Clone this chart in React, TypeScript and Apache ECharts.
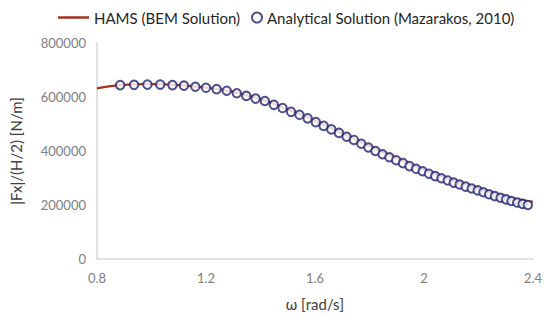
import React, { useEffect, useRef } from "react";
import * as echarts from "echarts";

// HAMS (BEM) curve: omega [rad/s] and |Fx|/(H/2) [N/m]
const hamsOmega = [0.8, 0.85, 0.9, 0.95, 1.0, 1.05, 1.1, 1.15, 1.2, 1.25, 1.3, 1.35, 1.4, 1.45, 1.5, 1.55, 1.6, 1.65, 1.7, 1.75, 1.8, 1.85, 1.9, 1.95, 2.0, 2.05, 2.1, 2.15, 2.2, 2.25, 2.3, 2.35, 2.4];
const hamsForce = [632000, 640000, 645000, 647000, 648000, 647000, 644000, 640000, 635000, 628000, 619000, 606000, 592000, 574000, 554000, 534000, 512000, 489000, 465000, 442000, 418000, 395000, 373000, 351000, 331000, 312000, 294000, 277000, 261000, 246000, 232000, 220000, 212000];

// Analytical solution (Mazarakos, 2010)
const anaOmega = [0.885, 0.936, 0.985, 1.032, 1.077, 1.119, 1.161, 1.2, 1.239, 1.276, 1.313, 1.348, 1.382, 1.416, 1.449, 1.481, 1.512, 1.543, 1.573, 1.603, 1.632, 1.66, 1.688, 1.716, 1.743, 1.77, 1.796, 1.822, 1.848, 1.873, 1.898, 1.923, 1.947, 1.971, 1.995, 2.018, 2.041, 2.064, 2.087, 2.109, 2.131, 2.153, 2.175, 2.197, 2.218, 2.239, 2.26, 2.281, 2.301, 2.321, 2.342, 2.362, 2.381];
const anaForce = [644000, 645000, 646000, 646000, 644000, 642000, 638000, 634000, 629000, 623000, 614000, 604000, 594000, 585000, 571000, 559000, 545000, 534000, 521000, 507000, 493000, 480000, 467000, 453000, 441000, 427000, 413000, 400000, 388000, 377000, 366000, 355000, 344000, 334000, 325000, 316000, 307000, 299000, 291000, 283000, 276000, 268000, 261000, 254000, 247000, 240000, 233000, 227000, 221000, 215000, 209000, 204000, 200000];

const seriesNames = ["HAMS (BEM Solution)", "Analytical Solution (Mazarakos, 2010)"];
const xTitle = "ω [rad/s]";
const yTitle = "|Fx|/(H/2) [N/m]";

const FONT = "Lato, 'Open Sans', sans-serif";
const LINE_COLOR = "#A3321F";
const CIRCLE_COLOR = "#232670";

export default function App() {
  const ref = useRef<HTMLDivElement>(null);
  useEffect(() => {
    if (!ref.current) return;
    const chart = echarts.init(ref.current, undefined, { renderer: "svg" });
    const legendText = { fontFamily: FONT, fontSize: 15, color: "#262626" };
    chart.setOption({
      animation: false,
      backgroundColor: "#ffffff",
      textStyle: { fontFamily: FONT },
      legend: [
        {
          top: 5,
          left: 53,
          itemWidth: 31,
          itemHeight: 2.5,
          itemGap: 4,
          textStyle: legendText,
          data: [{ name: seriesNames[0], icon: "rect", itemStyle: { color: LINE_COLOR } }],
        },
        {
          top: 5,
          left: 246,
          itemWidth: 10,
          itemHeight: 10,
          itemGap: 4,
          textStyle: legendText,
          data: [seriesNames[1]],
        },
      ],
      grid: { left: 94, right: 17, top: 43, bottom: 57, containLabel: false },
      xAxis: {
        type: "value",
        min: 0.8,
        max: 2.4,
        interval: 0.4,
        name: xTitle,
        nameLocation: "middle",
        nameGap: 37,
        nameTextStyle: { fontFamily: FONT, fontSize: 15, color: "#404040" },
        axisLine: { show: true, lineStyle: { color: "#D9D9D9", width: 1.5 } },
        axisTick: { show: false },
        splitLine: { show: false },
        axisLabel: { fontFamily: FONT, fontSize: 13, color: "#808080", margin: 12 },
      },
      yAxis: {
        type: "value",
        min: 0,
        max: 800000,
        interval: 200000,
        name: yTitle,
        nameLocation: "middle",
        nameGap: 74,
        nameRotate: 90,
        nameTextStyle: { fontFamily: FONT, fontSize: 15, color: "#404040" },
        axisLine: { show: true, lineStyle: { color: "#D9D9D9", width: 1.5 } },
        axisTick: { show: false },
        splitLine: { show: false },
        axisLabel: {
          fontFamily: FONT,
          fontSize: 13,
          color: "#808080",
          margin: 11,
          formatter: (v: number) => String(v),
        },
      },
      series: [
        {
          name: seriesNames[0],
          type: "line",
          data: hamsOmega.map((w, i) => [w, hamsForce[i]]),
          smooth: true,
          symbol: "none",
          lineStyle: { color: LINE_COLOR, width: 2.2 },
          itemStyle: { color: LINE_COLOR },
          z: 2,
        },
        {
          name: seriesNames[1],
          type: "scatter",
          data: anaOmega.map((w, i) => [w, anaForce[i]]),
          symbol: "circle",
          symbolSize: 8.5,
          itemStyle: { color: "#ffffff", borderColor: CIRCLE_COLOR, borderWidth: 2 },
          z: 3,
        },
      ],
    });
    return () => chart.dispose();
  }, []);
  return <div ref={ref} style={{ width: 550, height: 316, position: "fixed", left: 0, top: 0 }} />;
}
